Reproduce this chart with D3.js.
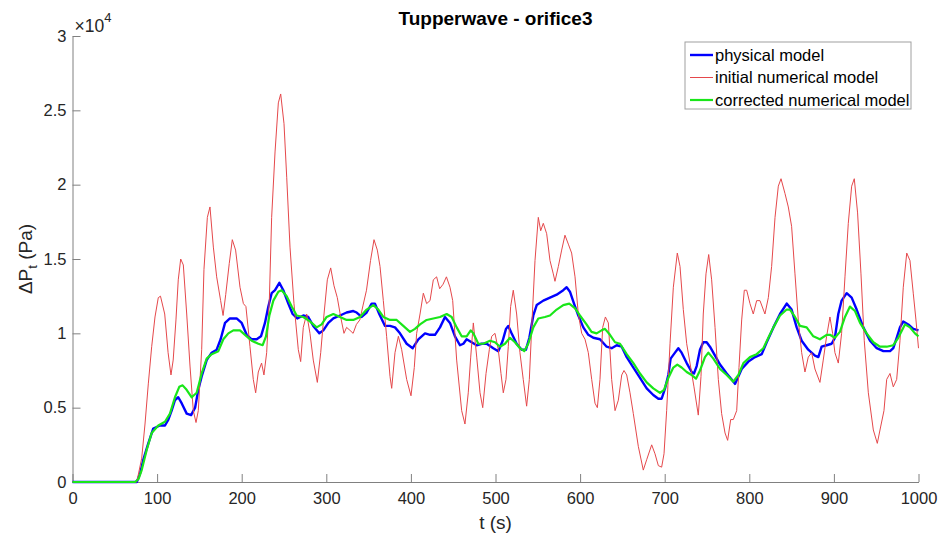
<!DOCTYPE html>
<html>
<head>
<meta charset="utf-8">
<script src="https://cdn.jsdelivr.net/npm/d3@7"></script>
<style>
  body { margin: 0; background: #fff; }
  svg { font-family: "Liberation Sans", Arial, Helvetica, sans-serif; }
</style>
</head>
<body>
<div id="chart"></div>
<script>
// values in units of 1e4 Pa: [t (s), dP]
var physical = [[0,0],[76,0],[80,0.06],[83.7,0.15],[89.6,0.26],[95.5,0.36],[103.4,0.38],[109.3,0.38],[113.3,0.42],[117.2,0.48],[121.1,0.55],[125,0.57],[129,0.53],[135,0.46],[140.2,0.45],[144.9,0.5],[148.7,0.62],[152.7,0.71],[158.6,0.82],[164.5,0.87],[170.4,0.89],[175.1,0.96],[180.3,1.07],[186.1,1.1],[194,1.1],[200,1.07],[205.9,0.99],[211.8,0.96],[217.7,0.96],[222.8,0.98],[227.5,1.07],[231.5,1.18],[235.4,1.27],[239.4,1.29],[244.5,1.34],[249.2,1.29],[255.1,1.2],[260.2,1.13],[265.7,1.1],[272.8,1.12],[278.7,1.11],[284.6,1.05],[291.7,1],[296.5,1.02],[302.4,1.07],[308.3,1.1],[316.2,1.12],[324,1.14],[331.9,1.15],[335.9,1.14],[341.8,1.11],[347.7,1.14],[353.6,1.2],[357.5,1.2],[362.6,1.13],[369.4,1.05],[375.3,1.05],[381.2,1.04],[387.1,1],[395,0.93],[402.1,0.9],[408.8,0.96],[416.7,1],[422.6,0.99],[428.5,0.99],[434.4,1.04],[440.3,1.11],[446.2,1.07],[452.1,0.98],[458,0.92],[462,0.93],[465.9,0.96],[471.8,0.94],[477.7,0.92],[483.7,0.93],[489.6,0.93],[497.4,0.9],[503.3,0.88],[508.5,0.95],[512.4,1.03],[515.1,1.05],[519,1],[525,0.93],[530.9,0.89],[536,0.89],[540,0.97],[544.7,1.12],[548.7,1.19],[556.5,1.22],[564.4,1.24],[572.3,1.26],[580.1,1.29],[584.1,1.31],[588,1.28],[592.8,1.2],[597.9,1.12],[603.8,1.04],[609.7,0.99],[615.6,0.97],[623.5,0.96],[631.4,0.91],[637.3,0.9],[643.3,0.92],[649.2,0.91],[655.1,0.84],[663,0.77],[670.8,0.7],[678.7,0.63],[686.5,0.585],[692.5,0.56],[696.4,0.56],[700.4,0.63],[704.3,0.72],[707,0.83],[712.2,0.87],[716.1,0.9],[720,0.87],[726,0.8],[731.9,0.74],[734.6,0.73],[737.8,0.78],[741.7,0.89],[745.6,0.94],[749.6,0.94],[753.5,0.91],[759.5,0.85],[765.4,0.79],[773.3,0.73],[779.2,0.69],[783.1,0.66],[787.1,0.71],[791,0.76],[798.9,0.81],[806.8,0.84],[814.7,0.86],[820.6,0.94],[828.5,1.04],[836.3,1.13],[844.2,1.2],[850,1.16],[856,1.04],[861.9,0.95],[869.7,0.89],[877.6,0.85],[881.6,0.84],[885.5,0.91],[891.4,0.92],[897.3,0.93],[901.2,0.97],[905.2,1.13],[909.1,1.22],[915.1,1.27],[921,1.24],[926.9,1.16],[934.8,1.04],[942.7,0.95],[950.6,0.9],[958.5,0.88],[966.4,0.88],[970.2,0.9],[974.2,0.97],[978.1,1.04],[982,1.08],[987.9,1.06],[993.8,1.03],[1000,1.02]];

var initial = [[0,0],[76,0],[81.8,0.16],[85.7,0.39],[89.6,0.66],[93.6,0.91],[97.5,1.11],[101.4,1.24],[104,1.25],[109,1.13],[113,0.87],[116.4,0.72],[119,0.82],[122.3,1.09],[125,1.36],[127.9,1.5],[131,1.46],[135,1.13],[138.9,0.78],[142.8,0.48],[146,0.4],[148.7,0.48],[152.7,0.89],[155.4,1.43],[159.4,1.78],[162.5,1.85],[166.5,1.58],[170.4,1.38],[175.1,1.22],[178,1.12],[181.1,1.26],[185.3,1.47],[188.9,1.63],[192.8,1.56],[198,1.31],[202,1.2],[205,1.18],[209.8,0.91],[213.7,0.69],[216.5,0.6],[219.6,0.74],[223.5,0.8],[226.3,0.72],[229.5,0.87],[232.7,1.23],[235.4,1.78],[239.4,2.22],[243.3,2.55],[246.1,2.61],[250,2.41],[253.2,2.05],[257.1,1.58],[261.8,1.2],[266.9,0.89],[269.7,0.81],[272.8,1.04],[276.8,1.13],[280.7,1],[284.6,0.82],[289.4,0.67],[293.4,0.87],[297.3,1.13],[301.2,1.36],[305.2,1.44],[309.1,1.32],[313,1.24],[317,1.11],[320.9,1],[324,1.04],[328,1.02],[331.7,1],[335.6,1.06],[339.6,1.09],[343.5,1.19],[347.5,1.29],[352.3,1.49],[356.4,1.63],[360.3,1.56],[363.5,1.45],[367.4,1.22],[371.3,0.98],[375.3,0.71],[377.3,0.63],[381.2,0.87],[385.2,0.98],[389.1,0.89],[395,0.69],[400.1,0.58],[404,0.77],[406.8,1],[410.8,1.13],[414.7,1.27],[418.6,1.2],[422.6,1.22],[426.5,1.36],[430.4,1.38],[434,1.3],[438,1.33],[442,1.38],[446.2,1.31],[449.4,1.22],[454.1,0.82],[460,0.48],[463.9,0.39],[467.8,0.6],[470.7,0.84],[473.8,1.07],[477.8,0.84],[481.7,0.6],[484.9,0.5],[488.8,0.73],[492.7,0.89],[495.5,0.98],[499.4,1],[503.3,0.89],[506.5,0.73],[509.2,0.6],[512.4,0.69],[515.1,0.91],[517.9,1.18],[521,1.29],[525,1.13],[528.9,0.87],[532.8,0.69],[536.8,0.51],[540,0.69],[542.8,1.04],[546.7,1.49],[550.6,1.78],[553.4,1.69],[556.5,1.74],[560.5,1.67],[564.4,1.49],[568.3,1.4],[570.3,1.35],[574.3,1.45],[578.2,1.56],[582.1,1.66],[586.1,1.6],[590,1.54],[594,1.38],[597.9,1.13],[601.9,1],[605.8,0.96],[609.7,0.87],[613.7,0.69],[617.6,0.53],[620.4,0.5],[623.5,0.69],[626.7,1.04],[629.9,1.11],[633.4,1.07],[637.3,0.69],[641.3,0.48],[645.2,0.55],[649.2,0.72],[651.9,0.75],[655.1,0.72],[659,0.6],[662.9,0.46],[668.8,0.24],[674.7,0.08],[678.7,0.15],[684.6,0.25],[688.5,0.19],[692.5,0.11],[696.4,0.1],[699.2,0.19],[702.3,0.48],[706.3,0.93],[710.2,1.31],[714.9,1.54],[718.1,1.45],[722,1.16],[726,0.93],[729.9,0.8],[734.6,0.64],[739.7,0.45],[742.9,0.71],[745.6,1.13],[748.8,1.4],[752,1.53],[755.5,1.36],[759.5,1.04],[763.4,0.69],[767.3,0.46],[771.3,0.33],[774.4,0.28],[778,0.42],[781.1,0.42],[785.1,0.48],[787.8,0.77],[791,1.09],[794.1,1.29],[796.9,1.29],[800.8,1.2],[804.7,1.13],[808.7,1.22],[812.6,1.22],[818.5,1.13],[822.5,1.24],[826.4,1.45],[830.4,1.78],[834.3,1.99],[837.5,2.04],[842.2,1.94],[846.1,1.85],[850,1.72],[854,1.4],[857.9,1.09],[861.9,0.87],[865.8,0.74],[869.7,0.84],[873.7,0.87],[877.6,0.76],[883.5,0.67],[887.4,0.82],[891.4,0.98],[895.3,1.11],[898.5,1],[901.2,0.87],[905.2,0.8],[909.1,1],[913.1,1.38],[917,1.74],[921,1.99],[924.1,2.04],[928,1.81],[932,1.4],[935.9,0.95],[940.7,0.6],[946.6,0.35],[951.3,0.26],[955.2,0.37],[959.2,0.48],[962.4,0.69],[966.3,0.73],[970.2,0.64],[974.2,0.69],[978.1,0.95],[982,1.31],[986.1,1.54],[989.9,1.49],[993.8,1.27],[997,1.09],[1000,0.9]];

var corrected = [[0,0],[74,0],[78,0.02],[81.8,0.08],[87.7,0.215],[93.6,0.33],[101.4,0.38],[109.3,0.405],[115.2,0.46],[121.1,0.57],[126.2,0.64],[130.2,0.65],[134.9,0.62],[140.9,0.57],[146.8,0.6],[152.7,0.73],[158.6,0.83],[164.5,0.86],[172.4,0.88],[178.3,0.96],[184.2,1],[190.1,1.02],[198,1.02],[203.9,0.99],[211.8,0.95],[219.7,0.93],[224.8,0.92],[228.7,0.98],[232.7,1.12],[237.4,1.22],[243.3,1.28],[247.2,1.29],[253.2,1.25],[259.1,1.18],[265,1.12],[272.8,1.11],[280.7,1.08],[288.6,1.04],[294.5,1.06],[300.4,1.11],[308.3,1.13],[316.2,1.11],[324,1.09],[331.9,1.09],[339.8,1.11],[347.7,1.16],[355.6,1.19],[361.5,1.16],[367.4,1.11],[375.3,1.09],[383.2,1.09],[391,1.05],[398.9,1.01],[404.8,1.03],[410.8,1.06],[418.6,1.09],[426.5,1.1],[434.4,1.11],[442.3,1.13],[448.2,1.11],[454.1,1.04],[460,0.98],[465.9,0.98],[470.7,1.02],[473.8,1],[479.7,0.93],[485.6,0.93],[493.5,0.95],[499.4,0.94],[505.3,0.91],[511.2,0.93],[517.1,0.97],[523,0.94],[528.9,0.9],[534,0.88],[538.7,0.93],[544.7,1.04],[550.6,1.1],[558.4,1.11],[564.4,1.12],[572.3,1.16],[580.1,1.19],[587.2,1.2],[593.8,1.17],[599.8,1.12],[607.6,1.06],[613.5,1.01],[619.5,1],[625.4,1.02],[629.4,1.03],[635.3,0.99],[641.3,0.94],[647.2,0.93],[655.1,0.86],[663,0.8],[670.8,0.73],[678.7,0.67],[686.5,0.63],[694.4,0.6],[699.2,0.62],[704.3,0.7],[710.2,0.77],[714.9,0.79],[720,0.77],[726,0.74],[731.9,0.72],[737,0.695],[741.7,0.75],[747.6,0.84],[751.6,0.87],[757.5,0.83],[765.4,0.76],[773.3,0.72],[781.1,0.675],[787.1,0.72],[793,0.8],[800.8,0.84],[808.7,0.86],[816.6,0.9],[822.5,0.97],[828.5,1.04],[836.3,1.12],[844.2,1.16],[848.1,1.16],[854,1.11],[859.9,1.05],[867.8,1.04],[875.7,0.98],[883.5,0.96],[891.4,0.99],[895.3,0.99],[901.2,0.97],[907.1,1.01],[913.1,1.11],[919,1.18],[924.9,1.15],[930.9,1.07],[938.7,1],[946.6,0.94],[954.5,0.91],[962.4,0.91],[970.2,0.92],[976.1,0.97],[984,1.06],[989.9,1.04],[995.8,1],[1000,0.98]];

var xTicks = [0,100,200,300,400,500,600,700,800,900,1000];
var yTicks = [0,0.5,1,1.5,2,2.5,3];
var seriesNames = ["physical model", "initial numerical model", "corrected numerical model"];

var width = 939, height = 538,
    margin = {top: 36, right: 20.5, bottom: 56, left: 72.5},
    axisGrey = "#808080", textCol = "#262626",
    fontSize = 16.5;

var series = [
  {name: seriesNames[0], data: physical, color: "#0000ff", w: 2.4},
  {name: seriesNames[1], data: initial, color: "#e5484b", w: 1},
  {name: seriesNames[2], data: corrected, color: "#19e619", w: 2.2}
];

var x = d3.scaleLinear().domain([0, 1000]).range([margin.left, width - margin.right]);
var y = d3.scaleLinear().domain([0, 3]).range([height - margin.bottom, margin.top]);

var svg = d3.select("#chart").append("svg")
  .attr("width", width)
  .attr("height", height);

var line = d3.line()
  .x(function(d) { return x(d[0]); })
  .y(function(d) { return y(d[1]); });

// axes with inward ticks
var xAxis = svg.append("g")
  .attr("transform", "translate(0," + y(0) + ")")
  .call(d3.axisBottom(x).tickValues(xTicks).tickFormat(d3.format("d")).tickSize(-8).tickSizeOuter(0).tickPadding(10));
var yAxis = svg.append("g")
  .attr("transform", "translate(" + x(0) + ",0)")
  .call(d3.axisLeft(y).tickValues(yTicks).tickFormat(d3.format("~g")).tickSize(-8).tickSizeOuter(0).tickPadding(6));

[xAxis, yAxis].forEach(function(a) {
  a.select(".domain").attr("stroke", axisGrey);
  a.selectAll(".tick line").attr("stroke", axisGrey);
  a.selectAll("text").attr("fill", textCol).style("font-size", fontSize + "px");
});

svg.selectAll("path.series")
  .data(series)
  .enter()
  .append("path")
  .attr("class", "series")
  .attr("fill", "none")
  .attr("stroke", function(d) { return d.color; })
  .attr("stroke-width", function(d) { return d.w; })
  .attr("stroke-linejoin", "round")
  .attr("d", function(d) { return line(d.data); });

// exponent
var ex = svg.append("text")
  .attr("x", x(0) + 2)
  .attr("y", 32)
  .attr("fill", textCol)
  .style("font-size", "17.5px");
ex.append("tspan").text("\u00d710");
ex.append("tspan").attr("dy", -10).style("font-size", "13px").text("4");

// title
svg.append("text")
  .attr("x", (x(0) + x(1000)) / 2)
  .attr("y", 25)
  .attr("text-anchor", "middle")
  .attr("fill", "#000")
  .style("font-size", "19px")
  .style("font-weight", "bold")
  .text("Tupperwave - orifice3");

// x label
svg.append("text")
  .attr("x", (x(0) + x(1000)) / 2)
  .attr("y", 529)
  .attr("text-anchor", "middle")
  .attr("fill", textCol)
  .style("font-size", "19px")
  .text("t (s)");

// y label
var yl = svg.append("text")
  .attr("transform", "translate(32," + ((y(0) + y(3)) / 2) + ") rotate(-90)")
  .attr("text-anchor", "middle")
  .attr("fill", textCol)
  .style("font-size", "19px");
yl.append("tspan").text("\u0394P");
yl.append("tspan").attr("dy", 5).style("font-size", "13px").text("t");
yl.append("tspan").attr("dy", -5).text(" (Pa)");

// legend
var lg = svg.append("g").attr("transform", "translate(685,42)");
lg.append("rect")
  .attr("width", 226).attr("height", 67)
  .attr("fill", "#fff")
  .attr("stroke", "#a0a0a0")
  .attr("stroke-width", 1);
var row = lg.selectAll("g.row")
  .data(series)
  .enter()
  .append("g")
  .attr("transform", function(d, i) { return "translate(0," + (13 + i * 22.5) + ")"; });
row.append("line")
  .attr("x1", 5).attr("x2", 28)
  .attr("stroke", function(d) { return d.color; })
  .attr("stroke-width", function(d) { return d.w; });
row.append("text")
  .attr("x", 30)
  .attr("dy", "0.35em")
  .attr("fill", "#000")
  .style("font-size", fontSize + "px")
  .text(function(d) { return d.name; });
</script>
</body>
</html>
